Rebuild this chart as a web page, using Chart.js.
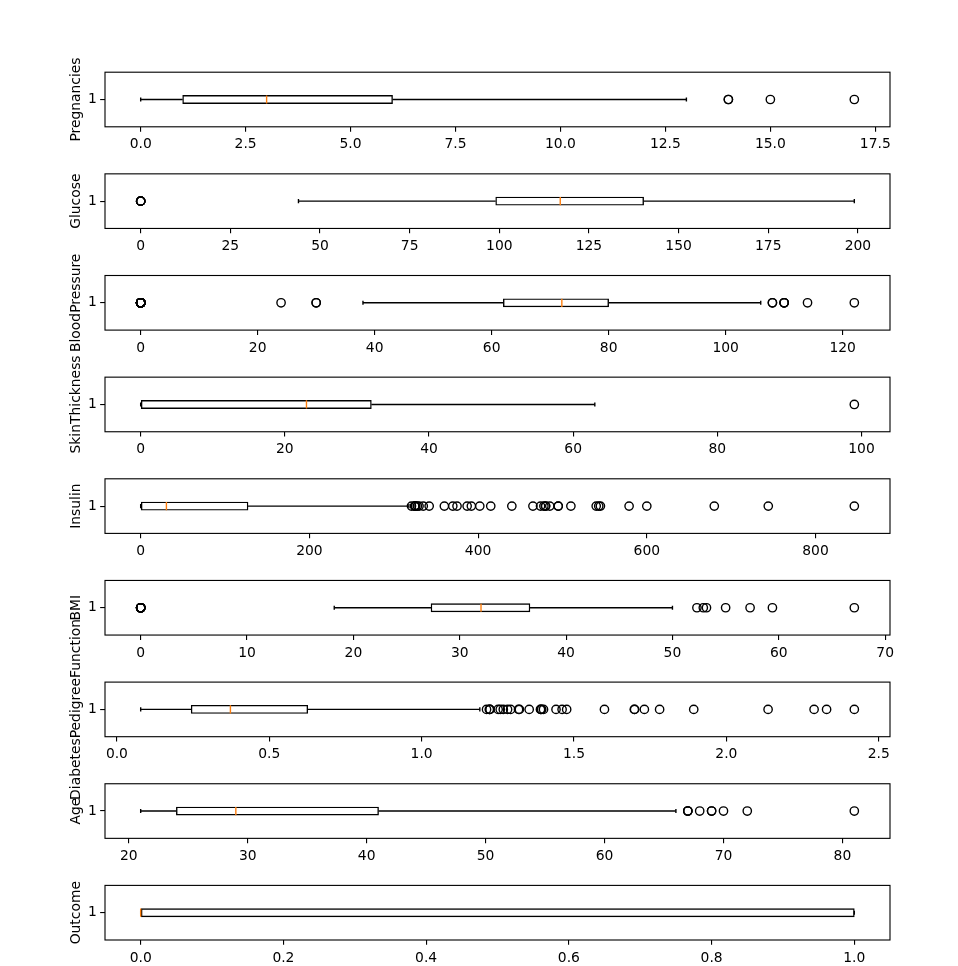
<!DOCTYPE html>
<html><head><meta charset="utf-8">
<script src="https://cdn.jsdelivr.net/npm/chart.js@4.4.0/dist/chart.umd.min.js"></script>
<style>
html,body{margin:0;padding:0;background:#fff;}
#wrap{position:relative;width:958px;height:966px;overflow:hidden;background:#fff;}
#wrap canvas{position:absolute;left:0;top:0;}
</style>
</head><body><div id="wrap"></div>
<script>
// ---------------- data ----------------
const variableNames = ['Pregnancies','Glucose','BloodPressure','SkinThickness','Insulin','BMI','DiabetesPedigreeFunction','Age','Outcome'];
const q1Values      = [1, 99, 62, 0, 0, 27.3, 0.24375, 24, 0];
const medianValues  = [3, 117, 72, 23, 30.5, 32, 0.3725, 29, 0];
const q3Values      = [6, 140.25, 80, 32, 127.25, 36.6, 0.62625, 41, 1];
const whiskerLows   = [0, 44, 38, 0, 0, 18.2, 0.078, 21, 0];
const whiskerHighs  = [13, 199, 106, 63, 318, 50, 1.191, 66, 1];

const pregnanciesOutliers = [14, 14, 15, 17];
const glucoseOutliers = [0, 0, 0, 0, 0];
const bloodPressureOutliers = [0,0,0,0,0,0,0,0,0,0,0,0,0,0,0,0,0,0,0,0,0,0,0,0,0,0,0,0,0,0,0,0,0,0,0, 24, 30, 30, 108, 108, 110, 110, 110, 114, 122];
const skinThicknessOutliers = [99];
const insulinOutliers = [321, 325, 325, 325, 326, 328, 330, 335, 342, 360, 370, 375, 387, 392, 402, 415, 440, 465, 474, 478, 480, 480, 485, 495, 495, 510, 540, 543, 545, 579, 600, 680, 744, 846];
const bmiOutliers = [0,0,0,0,0,0,0,0,0,0,0, 52.3, 52.9, 53.2, 55.0, 57.3, 59.4, 67.1];
const pedigreeOutliers = [1.213, 1.222, 1.224, 1.224, 1.251, 1.258, 1.268, 1.282, 1.292, 1.318, 1.321, 1.353, 1.39, 1.391, 1.394, 1.4, 1.441, 1.461, 1.476, 1.6, 1.698, 1.699, 1.731, 1.781, 1.893, 2.137, 2.288, 2.329, 2.42];
const ageOutliers = [67, 67, 67, 68, 69, 69, 70, 72, 81];
const outcomeOutliers = [];

const pregnanciesTicks = [0, 2.5, 5, 7.5, 10, 12.5, 15, 17.5];
const pregnanciesTickLabels = ['0.0','2.5','5.0','7.5','10.0','12.5','15.0','17.5'];
const glucoseTicks = [0, 25, 50, 75, 100, 125, 150, 175, 200];
const glucoseTickLabels = ['0','25','50','75','100','125','150','175','200'];
const bloodPressureTicks = [0, 20, 40, 60, 80, 100, 120];
const bloodPressureTickLabels = ['0','20','40','60','80','100','120'];
const skinThicknessTicks = [0, 20, 40, 60, 80, 100];
const skinThicknessTickLabels = ['0','20','40','60','80','100'];
const insulinTicks = [0, 200, 400, 600, 800];
const insulinTickLabels = ['0','200','400','600','800'];
const bmiTicks = [0, 10, 20, 30, 40, 50, 60, 70];
const bmiTickLabels = ['0','10','20','30','40','50','60','70'];
const pedigreeTicks = [0, 0.5, 1, 1.5, 2, 2.5];
const pedigreeTickLabels = ['0.0','0.5','1.0','1.5','2.0','2.5'];
const ageTicks = [20, 30, 40, 50, 60, 70, 80];
const ageTickLabels = ['20','30','40','50','60','70','80'];
const outcomeTicks = [0, 0.2, 0.4, 0.6, 0.8, 1];
const outcomeTickLabels = ['0.0','0.2','0.4','0.6','0.8','1.0'];

const yTickValues = [1];
const yTickLabels = ['1'];

const outlierLists = [pregnanciesOutliers, glucoseOutliers, bloodPressureOutliers, skinThicknessOutliers, insulinOutliers, bmiOutliers, pedigreeOutliers, ageOutliers, outcomeOutliers];
const xTickValueLists = [pregnanciesTicks, glucoseTicks, bloodPressureTicks, skinThicknessTicks, insulinTicks, bmiTicks, pedigreeTicks, ageTicks, outcomeTicks];
const xTickLabelLists = [pregnanciesTickLabels, glucoseTickLabels, bloodPressureTickLabels, skinThicknessTickLabels, insulinTickLabels, bmiTickLabels, pedigreeTickLabels, ageTickLabels, outcomeTickLabels];

// ---------------- layout / style ----------------
const FIG_W = 958, FIG_H = 966;
const AX_LEFT = 105, AX_RIGHT = 890, AX_TOP0 = 72.2, AX_PITCH = 101.65, AX_H = 54.6;
const X_AXIS_H = 30;
const PT = 100 / 72;
const BOX_WIDTH = 0.15, CAP_WIDTH = 0.075;

Chart.defaults.font.family = "'DejaVu Sans', sans-serif";
Chart.defaults.font.size = 10 * PT;
Chart.defaults.color = '#000';

const framePlugin = {
  id: 'axesFrame',
  afterDraw(chart) {
    const a = chart.chartArea, ctx = chart.ctx;
    ctx.save();
    ctx.strokeStyle = '#000';
    ctx.lineWidth = 0.8 * PT;
    ctx.strokeRect(a.left, a.top, a.right - a.left, a.bottom - a.top);
    ctx.restore();
  }
};

const wrap = document.getElementById('wrap');

variableNames.forEach((name, i) => {
  const canvas = document.createElement('canvas');
  canvas.width = FIG_W; canvas.height = FIG_H;
  canvas.style.width = FIG_W + 'px'; canvas.style.height = FIG_H + 'px';
  wrap.appendChild(canvas);

  const top = AX_TOP0 + i * AX_PITCH;
  const bottom = top + AX_H;
  const outs = outlierLists[i];
  const lo = Math.min(whiskerLows[i], ...outs);
  const hi = Math.max(whiskerHighs[i], ...outs);
  const span = hi - lo;
  const xMin = lo - 0.05 * span, xMax = hi + 0.05 * span;
  const ticksV = xTickValueLists[i], ticksL = xTickLabelLists[i];

  const lineDs = (pts, color, order) => ({
    type: 'line', data: pts, borderColor: color, borderWidth: 1.0 * PT,
    pointRadius: 0, fill: false, tension: 0, order: order, borderCapStyle: 'butt'
  });

  new Chart(canvas, {
    type: 'bar',
    data: {
      datasets: [
        lineDs([{x: medianValues[i], y: 1 - BOX_WIDTH / 2}, {x: medianValues[i], y: 1 + BOX_WIDTH / 2}], '#ff7f0e', 0),
        {
          type: 'scatter', data: outs.map(v => ({x: v, y: 1})), order: 1,
          pointStyle: 'circle', pointRadius: 3 * PT, borderWidth: 1.0 * PT,
          borderColor: '#000', backgroundColor: 'rgba(0,0,0,0)', showLine: false
        },
        lineDs([{x: whiskerLows[i], y: 1}, {x: q1Values[i], y: 1}], '#000', 2),
        lineDs([{x: q3Values[i], y: 1}, {x: whiskerHighs[i], y: 1}], '#000', 2),
        lineDs([{x: whiskerLows[i], y: 1 - CAP_WIDTH / 2}, {x: whiskerLows[i], y: 1 + CAP_WIDTH / 2}], '#000', 2),
        lineDs([{x: whiskerHighs[i], y: 1 - CAP_WIDTH / 2}, {x: whiskerHighs[i], y: 1 + CAP_WIDTH / 2}], '#000', 2),
        {
          type: 'bar', data: [{x: [q1Values[i], q3Values[i]], y: 1}], order: 3,
          backgroundColor: '#fff', borderColor: '#000', borderWidth: 1.0 * PT,
          borderSkipped: false, barThickness: BOX_WIDTH * AX_H
        }
      ]
    },
    options: {
      indexAxis: 'y',
      responsive: false, maintainAspectRatio: false, animation: false,
      devicePixelRatio: 1, events: [],
      layout: { padding: { left: 0, right: FIG_W - AX_RIGHT, top: top, bottom: FIG_H - bottom - X_AXIS_H } },
      plugins: { legend: { display: false }, tooltip: { enabled: false } },
      scales: {
        x: {
          type: 'linear', position: 'bottom', min: xMin, max: xMax,
          grid: { display: true, drawOnChartArea: false, drawTicks: true, tickLength: 3.5 * PT, color: '#000', lineWidth: 0.8 * PT },
          border: { display: false },
          ticks: { autoSkip: false, maxRotation: 0, padding: 3.5 * PT, callback: (v, idx) => ticksL[idx] },
          afterBuildTicks: s => { s.ticks = ticksV.map(v => ({value: v})); },
          afterFit: s => { s.height = X_AXIS_H; }
        },
        y: {
          type: 'linear', position: 'left', min: 0.5, max: 1.5, offset: false,
          grid: { display: true, drawOnChartArea: false, drawTicks: true, tickLength: 3.5 * PT, color: '#000', lineWidth: 0.8 * PT, offset: false },
          border: { display: false },
          ticks: { autoSkip: false, padding: 3.5 * PT - 1.5, callback: (v, idx) => yTickLabels[idx] },
          afterBuildTicks: s => { s.ticks = yTickValues.map(v => ({value: v})); },
          afterFit: s => { s.width = AX_LEFT; },
          title: { display: true, text: name, padding: { top: 68.3, bottom: 0 } }
        }
      }
    },
    plugins: [framePlugin]
  });
});
</script>
</body></html>
